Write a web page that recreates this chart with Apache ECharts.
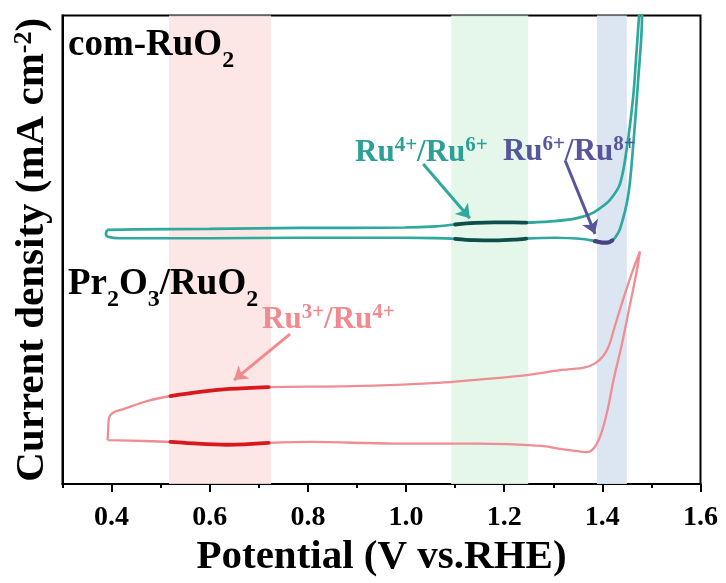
<!DOCTYPE html>
<html>
<head>
<meta charset="utf-8">
<script src="https://cdn.jsdelivr.net/npm/echarts@6/dist/echarts.min.js"></script>
<style>
  html, body { margin: 0; padding: 0; background: #fff; }
  #chart { width: 726px; height: 583px; }
</style>
</head>
<body>
<div id="chart"></div>
<script>
// Potential axis ticks (V vs. RHE)
const xMajorTicks = [0.4, 0.6, 0.8, 1.0, 1.2, 1.4, 1.6];
const xMinorTicks = [0.3, 0.5, 0.7, 0.9, 1.1, 1.3, 1.5];

// com-RuO2 CV loop: [potential (V), current density (a.u.)]
const comRuO2Anodic = [
  [0.391, 54.24], [0.448, 54.35], [0.600, 54.45], [0.784, 54.66], [0.998, 54.76],
  [1.060, 55.00], [1.100, 55.40], [1.140, 55.75], [1.180, 55.85], [1.220, 55.85],
  [1.245, 55.80], [1.303, 56.13], [1.344, 56.65], [1.375, 57.59], [1.395, 58.85],
  [1.416, 60.73], [1.436, 64.08], [1.450, 71.83], [1.4625, 82.30], [1.4686, 90.68],
  [1.4747, 99.69], [1.4768, 102.2]
];
const comRuO2Cathodic = [
  [1.481, 102.2], [1.4809, 99.69], [1.4727, 85.86], [1.4625, 71.83], [1.4523, 61.36],
  [1.436, 54.45], [1.4258, 52.57], [1.420, 52.00], [1.4095, 51.52], [1.400, 51.55],
  [1.390, 51.75], [1.385, 51.85], [1.3646, 52.25], [1.3035, 52.57], [1.245, 52.40],
  [1.220, 52.15], [1.180, 52.00], [1.140, 52.05], [1.100, 52.35], [1.060, 52.50],
  [0.998, 52.57], [0.784, 52.57], [0.600, 52.46], [0.417, 52.46], [0.3927, 52.77],
  [0.3885, 53.40], [0.391, 54.24]
];

// Pr2O3/RuO2 CV loop
const prRuO2Anodic = [
  [0.392, 9.40], [0.393, 11.50], [0.395, 14.20], [0.4035, 15.30], [0.424, 16.00],
  [0.472, 17.70], [0.520, 18.80], [0.580, 19.70], [0.640, 20.30], [0.720, 20.70],
  [0.890, 20.90], [1.067, 21.60], [1.147, 22.30], [1.232, 23.10], [1.318, 24.36],
  [1.365, 24.92], [1.385, 25.76], [1.401, 27.23], [1.4135, 29.53], [1.4237, 33.09],
  [1.436, 37.28], [1.450, 41.88], [1.4645, 46.28], [1.4767, 49.63]
];
const prRuO2Cathodic = [
  [1.4686, 44.61], [1.4563, 38.32], [1.440, 29.95], [1.4237, 22.62], [1.4094, 15.29],
  [1.3972, 10.68], [1.385, 7.96], [1.3687, 6.81], [1.3503, 7.02], [1.3137, 7.54],
  [1.2749, 8.17], [1.1466, 8.65], [0.9775, 8.65], [0.8063, 9.00], [0.720, 8.80],
  [0.6352, 8.40], [0.5496, 8.80], [0.520, 9.00], [0.4661, 9.20], [0.392, 9.40]
];

// Redox windows (shaded bands), potential ranges
const bandRanges = [[0.517, 0.725], [1.092, 1.249], [1.389, 1.450]];
// Highlighted peak segments
const peakRu34 = [0.52, 0.72];
const peakRu46 = [1.10, 1.245];
const peakRu68 = [1.385, 1.42];

// Annotation anchors: [potential, current density]
const labelRu46 = [0.896, 70.7];
const labelRu68 = [1.1975, 70.9];
const labelRu34 = [0.7065, 35.0];
const arrowRu46 = [[1.035, 68.3], [1.130, 56.75]];
const arrowRu68 = [[1.324, 69.1], [1.385, 53.4]];
const arrowRu34 = [[0.7635, 32.0], [0.6494, 22.2]];

const FONT = "'Liberation Serif', 'Times New Roman', serif";
const TEAL = '#2fa89e';
const TEAL_DARK = '#0f4f4b';
const PURPLE = '#57569a';
const PURPLE_DARK = '#464283';
const PINK = '#ef8d92';
const RED_DARK = '#d8181f';
const TEAL_TEXT = '#2ba096';
const PINK_TEXT = '#f08a8e';
const bandColors = ['rgba(252,226,226,0.85)', 'rgba(226,245,233,0.9)', 'rgba(218,229,242,0.95)'];

function segment(branch, range) {
  return branch.filter(p => p[0] >= range[0] - 1e-9 && p[0] <= range[1] + 1e-9);
}

function supRich(color) {
  return {
    m: { fontFamily: FONT, fontWeight: 'bold', fontSize: 31, lineHeight: 36, color: color },
    s: { fontFamily: FONT, fontWeight: 'bold', fontSize: 21, lineHeight: 24, verticalAlign: 'top', color: color }
  };
}
const subRich = {
  m: { fontFamily: FONT, fontWeight: 'bold', fontSize: 37, lineHeight: 55, color: '#000' },
  s: { fontFamily: FONT, fontWeight: 'bold', fontSize: 24, lineHeight: 24, verticalAlign: 'bottom', color: '#000' }
};

function textPoint(coord, text, color) {
  return {
    coord: coord,
    symbol: 'circle',
    symbolSize: 0,
    label: { show: true, position: 'right', distance: 0, formatter: text, rich: supRich(color) }
  };
}
function arrow(pts, color) {
  return [
    { coord: pts[0], lineStyle: { color: color, width: 3, type: 'solid' } },
    { coord: pts[1] }
  ];
}

const chart = echarts.init(document.getElementById('chart'), null, { renderer: 'canvas' });

const segStyle = (color, width) => ({
  type: 'line', smooth: 0.35, showSymbol: false, silent: true, z: 4,
  lineStyle: { color: color, width: width, cap: 'round' }
});

chart.setOption({
  animation: false,
  backgroundColor: '#fff',
  grid: { left: 62.5, right: 25.5, top: 15.5, bottom: 90, show: true, borderColor: '#000', borderWidth: 2, backgroundColor: 'transparent' },
  xAxis: [
    {
      type: 'value', min: 0.3, max: 1.6, position: 'bottom',
      name: 'Potential (V vs.RHE)', nameLocation: 'middle', nameGap: 42,
      nameTextStyle: { fontFamily: FONT, fontWeight: 'bold', fontSize: 41, color: '#000' },
      axisLine: { show: true, lineStyle: { color: '#000', width: 2 } },
      axisTick: { show: true, customValues: xMajorTicks, length: 8, inside: false, lineStyle: { color: '#000', width: 2 } },
      axisLabel: { show: true, customValues: xMajorTicks, margin: 20, fontFamily: FONT, fontWeight: 'bold', fontSize: 28, color: '#000',
        formatter: v => v.toFixed(1) },
      splitLine: { show: false }
    },
    {
      type: 'value', min: 0.3, max: 1.6, position: 'bottom', gridIndex: 0,
      axisLine: { show: false },
      axisTick: { show: true, customValues: xMinorTicks, length: 4, inside: false, lineStyle: { color: '#000', width: 2 } },
      axisLabel: { show: false },
      splitLine: { show: false }
    }
  ],
  yAxis: {
    type: 'value', min: 0, max: 100,
    name: 'Current density (mA cm{s|-2})', nameLocation: 'middle', nameGap: 10,
    nameTextStyle: {
      fontFamily: FONT, fontWeight: 'bold', fontSize: 41, color: '#000',
      rich: {
        s: { fontFamily: FONT, fontWeight: 'bold', fontSize: 26, lineHeight: 30, verticalAlign: 'top', color: '#000' }
      }
    },
    axisLine: { show: true, lineStyle: { color: '#000', width: 2 } },
    axisTick: { show: false },
    axisLabel: { show: false },
    splitLine: { show: false }
  },
  graphic: [
    { type: 'text', left: 68, top: 27, z: 10, style: { text: '{m|com-RuO}{s|2}', rich: subRich } },
    { type: 'text', left: 68, top: 266, z: 10, style: { text: '{m|Pr}{s|2}{m|O}{s|3}{m|/RuO}{s|2}', rich: subRich } }
  ],
  series: [
    {
      name: 'com-RuO2', type: 'line', smooth: 0.35, showSymbol: false, z: 3,
      data: comRuO2Anodic.concat(comRuO2Cathodic),
      lineStyle: { color: TEAL, width: 2.7 },
      markArea: {
        silent: true,
        data: bandRanges.map((r, i) => [
          { xAxis: r[0], itemStyle: { color: bandColors[i] } },
          { xAxis: r[1] }
        ])
      },
      markLine: {
        silent: true, symbol: ['none', 'arrow'], symbolSize: 13, z: 6,
        label: { show: false },
        data: [arrow(arrowRu46, TEAL), arrow(arrowRu68, PURPLE)]
      },
      markPoint: {
        silent: true, z: 7,
        data: [
          textPoint(labelRu46, '{m|Ru}{s|4+}{m|/Ru}{s|6+}', TEAL_TEXT),
          textPoint(labelRu68, '{m|Ru}{s|6+}{m|/Ru}{s|8+}', PURPLE)
        ]
      }
    },
    Object.assign(segStyle(TEAL_DARK, 3.8), { data: segment(comRuO2Anodic, peakRu46) }),
    Object.assign(segStyle(TEAL_DARK, 3.8), { data: segment(comRuO2Cathodic, peakRu46) }),
    Object.assign(segStyle(PURPLE_DARK, 4.2), { data: segment(comRuO2Cathodic, peakRu68) }),
    {
      name: 'Pr2O3/RuO2', type: 'line', smooth: 0.35, showSymbol: false, z: 3,
      data: prRuO2Anodic.concat(prRuO2Cathodic),
      lineStyle: { color: PINK, width: 2.3 },
      markLine: {
        silent: true, symbol: ['none', 'arrow'], symbolSize: 13, z: 6,
        label: { show: false },
        data: [arrow(arrowRu34, PINK_TEXT)]
      },
      markPoint: {
        silent: true, z: 7,
        data: [textPoint(labelRu34, '{m|Ru}{s|3+}{m|/Ru}{s|4+}', PINK_TEXT)]
      }
    },
    Object.assign(segStyle(RED_DARK, 3.8), { data: segment(prRuO2Anodic, peakRu34) }),
    Object.assign(segStyle(RED_DARK, 3.8), { data: segment(prRuO2Cathodic, peakRu34) })
  ]
});
</script>
</body>
</html>
